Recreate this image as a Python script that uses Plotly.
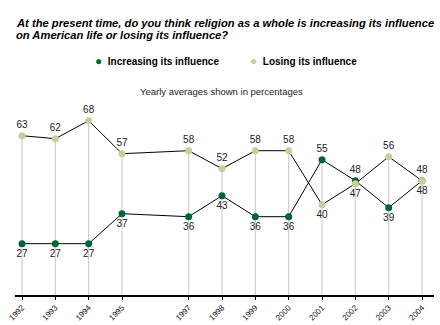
import plotly.graph_objects as go

years = [1992, 1993, 1994, 1995, 1997, 1998, 1999, 2000, 2001, 2002, 2003, 2004]
increasing = [27, 27, 27, 37, 36, 43, 36, 36, 55, 48, 39, 48]
losing = [63, 62, 68, 57, 58, 52, 58, 58, 40, 47, 56, 48]
tick_labels = [str(y) for y in years]

GREEN = "#006633"
BEIGE = "#CCCC99"
FONT = "Arial, Liberation Sans, sans-serif"

Y_MIN, Y_MAX = 9.9, 74.9

fig = go.Figure()

# vertical drop lines from the higher point of each year down to the axis
drop_x, drop_y = [], []
for yr, a, b in zip(years, increasing, losing):
    drop_x += [yr, yr, None]
    drop_y += [max(a, b), Y_MIN, None]
fig.add_trace(go.Scatter(x=drop_x, y=drop_y, mode="lines",
                         line=dict(color="#c8c8c8", width=1),
                         hoverinfo="skip", showlegend=False))

inc_pos = ["top center" if a > b else "bottom center" for a, b in zip(increasing, losing)]
los_pos = ["top center" if b >= a else "bottom center" for a, b in zip(increasing, losing)]

fig.add_trace(go.Scatter(
    x=years, y=increasing, mode="lines+markers+text",
    line=dict(color="black", width=1),
    marker=dict(color=GREEN, size=7),
    text=[str(v) for v in increasing], textposition=inc_pos,
    textfont=dict(family=FONT, size=10, color="#222"),
    name="Increasing its influence", showlegend=False, cliponaxis=False))

fig.add_trace(go.Scatter(
    x=years, y=losing, mode="lines+markers+text",
    line=dict(color="black", width=1),
    marker=dict(color=BEIGE, size=7),
    text=[str(v) for v in losing], textposition=los_pos,
    textfont=dict(family=FONT, size=10, color="#222"),
    name="Losing its influence", showlegend=False, cliponaxis=False))

title_lines = [
    "At the present time, do you think religion as a whole is increasing its influence",
    "on American life or losing its influence?",
]
title_y = [1.395, 1.333]

annotations = [
    dict(text=f"<b><i>{line}</i></b>",
         xref="paper", yref="paper", x=-0.003, y=ty, xanchor="left", yanchor="middle",
         align="left", showarrow=False, font=dict(family=FONT, size=11.2, color="black"))
    for line, ty in zip(title_lines, title_y)
] + [
    dict(text=f"<span style='color:{GREEN};font-size:12px'>●</span>  <b>Increasing its influence</b>",
         xref="paper", yref="paper", x=0.187, y=1.2, xanchor="left", yanchor="middle",
         showarrow=False, font=dict(family=FONT, size=10, color="black")),
    dict(text=f"<span style='color:{BEIGE};font-size:12px'>●</span>  <b>Losing its influence</b>",
         xref="paper", yref="paper", x=0.557, y=1.2, xanchor="left", yanchor="middle",
         showarrow=False, font=dict(family=FONT, size=10, color="black")),
    dict(text="Yearly averages shown in percentages",
         xref="paper", yref="paper", x=0.494, y=1.046, xanchor="center", yanchor="middle",
         showarrow=False, font=dict(family=FONT, size=9.5, color="#222")),
]

fig.update_layout(
    width=440, height=325,
    margin=dict(l=15, r=6, t=100, b=30),
    paper_bgcolor="white", plot_bgcolor="white",
    annotations=annotations,
    xaxis=dict(range=[1991.79, 2004.36], tickvals=years, ticktext=tick_labels,
               tickangle=-45, ticks="outside", ticklen=3, tickcolor="black",
               showline=True, linecolor="black", linewidth=2,
               showgrid=False, zeroline=False, automargin=False,
               tickfont=dict(family=FONT, size=8, color="#111")),
    yaxis=dict(range=[Y_MIN, Y_MAX], visible=False, showgrid=False, zeroline=False),
)

fig.write_html("out.html")
